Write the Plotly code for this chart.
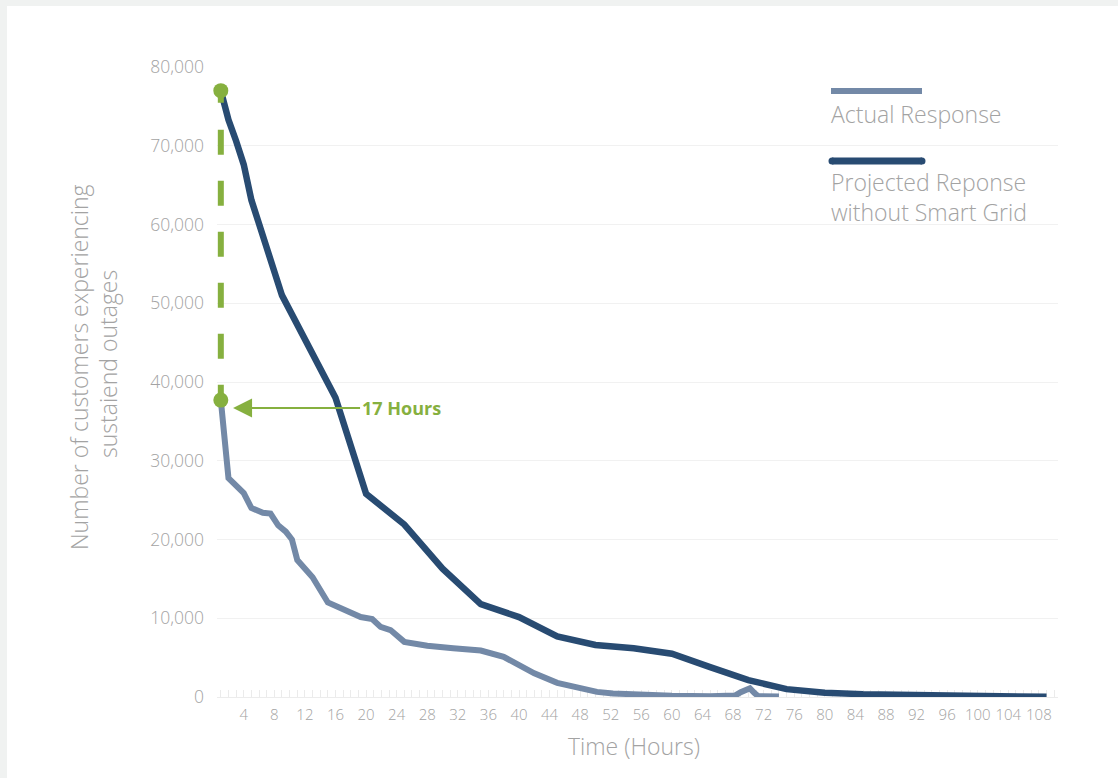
import plotly.graph_objects as go

# ---------------- data ----------------
proj_hours = [1, 2, 3, 4, 5, 9, 16, 20, 25, 30, 35, 40, 45, 50, 55, 60, 65, 70, 75, 80, 85, 90, 95, 100, 105, 109]
proj_vals = [77000, 73300, 70600, 67600, 63100, 51000, 38000, 25800, 21900, 16300, 11800, 10150, 7700, 6600, 6200,
             5500, 3800, 2150, 1000, 550, 350, 250, 120, 60, 30, 20]

act_hours = [1, 2, 4, 5, 6.5, 7.5, 8.5, 9.5, 10.3, 11, 13, 15, 19.3, 20.8, 21.9, 23.2, 25, 28, 31.4, 35, 38, 39.3,
             42, 45, 46.3, 48.2, 50.2, 52.3, 56, 60, 65, 68.3, 69, 70.2, 70.8, 71.3, 74]
act_vals = [37700, 27800, 25900, 24000, 23400, 23300, 21800, 21000, 20000, 17400, 15200, 12000, 10150, 9900, 8900,
            8500, 7000, 6500, 6200, 5900, 5100, 4400, 3000, 1800, 1500, 1000, 650, 450, 250, 150, 100, 200, 600,
            1100, 500, 100, 50]

x_ticks = list(range(4, 109, 4))
y_ticks = [0, 10000, 20000, 30000, 40000, 50000, 60000, 70000, 80000]

legend_labels = ["Actual Response", "Projected Reponse<br>without Smart Grid"]
y_title_lines = ["Number of customers experiencing", "sustaiend outages"]
x_title = "Time (Hours)"
marker_hours = [1, 1]
marker_vals = [77000, 37700]
gap_label = "17 Hours"

# ---------------- styles ----------------
C_ACT = "#7389a7"
C_PROJ = "#284b72"
C_GREEN = "#86b03f"
C_TXT = "#a3a3a3"
FONT = "Open Sans"

W, H = 1118, 778
ML, MR, MT, MB = 217, 60, 67, 81
PW, PH = W - ML - MR, H - MT - MB


def px_x(p):
    return (p - ML) / PW


def px_y(p):
    return (H - MB - p) / PH


fig = go.Figure()

fig.add_trace(go.Scatter(x=act_hours, y=act_vals, mode="lines", cliponaxis=False,
                         line=dict(color=C_ACT, width=6), hoverinfo="skip", showlegend=False))
fig.add_trace(go.Scatter(x=proj_hours, y=proj_vals, mode="lines", cliponaxis=False,
                         line=dict(color=C_PROJ, width=6.5), hoverinfo="skip", showlegend=False))

# green dashed connector and markers
fig.add_trace(go.Scatter(x=marker_hours, y=marker_vals, mode="lines", cliponaxis=False,
                         line=dict(color=C_GREEN, width=6,
                                   dash="12px,27px,25px,26px,25px,26px,25px,26px,25px,26px,25px,26px,25px,26px"),
                         hoverinfo="skip", showlegend=False))
fig.add_trace(go.Scatter(x=marker_hours, y=marker_vals, mode="markers", cliponaxis=False,
                         marker=dict(color=C_GREEN, size=15), hoverinfo="skip", showlegend=False))

shapes = [
    # white card
    dict(type="rect", xref="paper", yref="paper", x0=px_x(7), x1=px_x(W + 5), y0=px_y(H + 5), y1=px_y(6),
         fillcolor="white", line=dict(width=0), layer="below"),
    # legend lines
    dict(type="line", xref="paper", yref="paper", x0=px_x(831), x1=px_x(922), y0=px_y(91), y1=px_y(91),
         line=dict(color=C_ACT, width=6)),
    dict(type="line", xref="paper", yref="paper", x0=px_x(832), x1=px_x(922), y0=px_y(161), y1=px_y(161),
         line=dict(color=C_PROJ, width=7)),
    dict(type="circle", xref="paper", yref="paper", x0=px_x(828.5), x1=px_x(835.5), y0=px_y(164.5), y1=px_y(157.5),
         fillcolor=C_PROJ, line=dict(width=0)),
    dict(type="circle", xref="paper", yref="paper", x0=px_x(918.5), x1=px_x(925.5), y0=px_y(164.5), y1=px_y(157.5),
         fillcolor=C_PROJ, line=dict(width=0)),
]

LIGHT = dict(family=FONT, size=23, color=C_TXT, weight=300)


def txt(x, y, s, angle=0, anchor="left"):
    return dict(xref="paper", yref="paper", x=px_x(x), y=px_y(y), text=s, showarrow=False, textangle=angle,
                xanchor=anchor, yanchor="middle", align="left", font=LIGHT)


annotations = [
    txt(829, 114, legend_labels[0]),
    txt(829, 197, legend_labels[1]),
    txt(79, 367, y_title_lines[0], angle=-90, anchor="center"),
    txt(108, 364, y_title_lines[1], angle=-90, anchor="center"),
    txt(634, 746, x_title, anchor="center"),
    dict(x=2.6, y=36700, xref="x", yref="y", text="<b>" + gap_label + "</b>", showarrow=True,
         ax=168, ay=0, arrowhead=2, arrowsize=1.9, arrowwidth=2, arrowcolor=C_GREEN,
         font=dict(family=FONT, size=18, color=C_GREEN), xanchor="center"),
]

fig.update_layout(
    width=W, height=H,
    margin=dict(l=ML, r=MR, t=MT, b=MB),
    paper_bgcolor="#f0f2f1",
    plot_bgcolor="white",
    shapes=shapes,
    annotations=annotations,
    showlegend=False,
    font=dict(family=FONT, color=C_TXT),
    xaxis=dict(range=[0.5, 110.5], tickvals=x_ticks, ticktext=[str(v) for v in x_ticks],
               showgrid=False, zeroline=False, showline=True, linecolor="#ececec", linewidth=1,
               layer="below traces",
               ticks="", tickfont=dict(family=FONT, size=15, color=C_TXT, weight=300), ticklabelstandoff=4,
               minor=dict(tickvals=list(range(1, 111)), ticks="inside", ticklen=7, tickcolor="#ebebeb",
                          tickwidth=1, showgrid=False)),
    yaxis=dict(range=[0, 80000], tickvals=y_ticks, tickformat=",", layer="below traces",
               showgrid=True, gridcolor="#f1f1f1", gridwidth=1, zeroline=False, showline=False,
               ticks="", tickfont=dict(family=FONT, size=17.5, color=C_TXT, weight=300), ticklabelstandoff=12),
)

fig.write_html("out.html")
